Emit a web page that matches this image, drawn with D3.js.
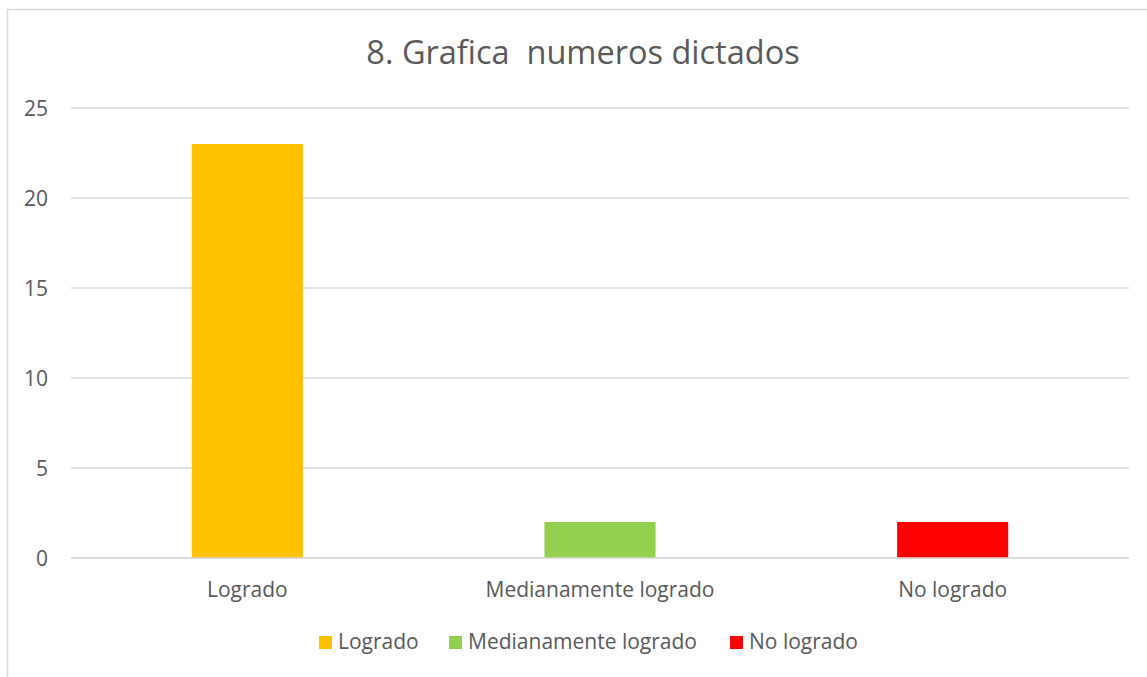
<!DOCTYPE html>
<html>
<head>
<meta charset="utf-8">
<script src="https://cdn.jsdelivr.net/npm/d3@7"></script>
<style>
  body { margin: 0; background: #fff; }
  text { font-family: "Open Sans", sans-serif; fill: #595959; white-space: pre; }
</style>
</head>
<body>
<svg width="1147" height="677"></svg>
<script>
var categories = ["Logrado", "Medianamente logrado", "No logrado"];
var values = [23, 2, 2];
var colors = ["#FFC000", "#92D050", "#FF0000"];
var yTicks = [0, 5, 10, 15, 20, 25];
var title = "8. Grafica  numeros dictados";

var svg = d3.select("svg");

// chart area border (right/bottom edge fall outside the picture)
svg.append("rect")
  .attr("x", 7.5).attr("y", 9.5)
  .attr("width", 1200).attr("height", 700)
  .attr("fill", "none")
  .attr("stroke", "#d9d9d9")
  .attr("stroke-width", 1.5);

svg.append("text")
  .attr("x", 583)
  .attr("y", 64)
  .attr("text-anchor", "middle")
  .attr("xml:space", "preserve")
  .style("font-size", "32.5px")
  .text(title);

var plotLeft = 71, plotRight = 1129, plotTop = 108, plotBottom = 558;

var xScale = d3.scaleBand().domain(categories).range([plotLeft, plotRight]);
var yScale = d3.scaleLinear().domain([0, 25]).range([plotBottom, plotTop]);
var barW = xScale.bandwidth() * 0.315;

var g = svg.append("g");

g.selectAll(".grid")
  .data(yTicks)
  .enter()
  .append("line")
  .attr("x1", plotLeft).attr("x2", plotRight)
  .attr("y1", d => yScale(d)).attr("y2", d => yScale(d))
  .attr("stroke", "#d9d9d9")
  .attr("stroke-width", 1.5);

g.selectAll(".ytick")
  .data(yTicks)
  .enter()
  .append("text")
  .attr("x", 48)
  .attr("y", d => yScale(d))
  .attr("dy", "0.36em")
  .attr("text-anchor", "end")
  .style("font-size", "21px")
  .text(d => d);

g.selectAll(".bar")
  .data(values)
  .enter()
  .append("rect")
  .attr("x", (d, i) => xScale(categories[i]) + xScale.bandwidth() / 2 - barW / 2)
  .attr("y", d => yScale(d))
  .attr("width", barW)
  .attr("height", d => plotBottom - yScale(d))
  .attr("fill", (d, i) => colors[i]);

// redraw baseline over bars
g.append("line")
  .attr("x1", plotLeft).attr("x2", plotRight)
  .attr("y1", yScale(0)).attr("y2", yScale(0))
  .attr("stroke", "#d9d9d9")
  .attr("stroke-width", 1.5);

g.selectAll(".xlabel")
  .data(categories)
  .enter()
  .append("text")
  .attr("x", d => xScale(d) + xScale.bandwidth() / 2)
  .attr("y", 597)
  .attr("text-anchor", "middle")
  .style("font-size", "21px")
  .text(d => d);

// legend
var legendX = [319, 449, 730];
var legend = svg.selectAll(".legend")
  .data(categories)
  .enter()
  .append("g")
  .attr("transform", (d, i) => "translate(" + legendX[i] + ",636)");

legend.append("rect")
  .attr("width", 13).attr("height", 13)
  .attr("fill", (d, i) => colors[i]);

legend.append("text")
  .attr("x", 19)
  .attr("y", 13)
  .style("font-size", "21px")
  .text(d => d);
</script>
</body>
</html>
